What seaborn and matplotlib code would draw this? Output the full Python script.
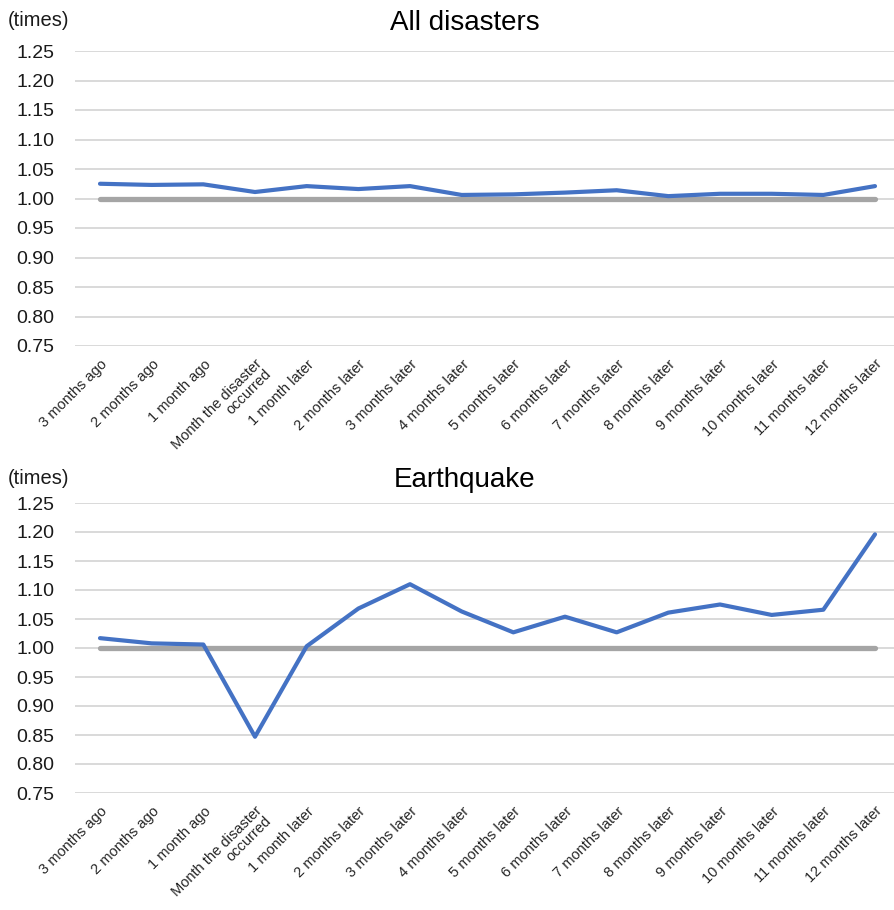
import numpy as np
import pandas as pd
import matplotlib
matplotlib.use("Agg")
import matplotlib.pyplot as plt
import seaborn as sns

# --- data ---
months = ["3 months ago", "2 months ago", "1 month ago", "Month the disaster\noccurred",
          "1 month later", "2 months later", "3 months later", "4 months later",
          "5 months later", "6 months later", "7 months later", "8 months later",
          "9 months later", "10 months later", "11 months later", "12 months later"]
all_disasters = [1.025, 1.023, 1.024, 1.011, 1.021, 1.016, 1.021, 1.006,
                 1.007, 1.010, 1.014, 1.004, 1.008, 1.008, 1.006, 1.021]
earthquake = [1.017, 1.008, 1.006, 0.847, 1.003, 1.068, 1.110, 1.063,
              1.027, 1.054, 1.027, 1.061, 1.075, 1.057, 1.066, 1.196]
baseline = [1.00] * len(months)
yticks = [0.75, 0.80, 0.85, 0.90, 0.95, 1.00, 1.05, 1.10, 1.15, 1.20, 1.25]

sns.set_theme(style="white")
plt.rcParams['font.family'] = ['Liberation Sans', 'DejaVu Sans']

W, H = 895, 910
fig = plt.figure(figsize=(W / 100, H / 100), dpi=100)

blue = "#4472C4"
gray = "#A5A5A5"
grid = "#D9D9D9"

panels = [
    ("All disasters", all_disasters, 51, 346, 23, 20),
    ("Earthquake", earthquake, 503, 793, 480, 478),
]

for title, vals, ytop, ybot, ty, uy in panels:
    ax = fig.add_axes([75 / W, (H - ybot) / H, (895 - 75) / W, (ybot - ytop) / H])
    df = pd.DataFrame({"x": np.arange(len(months)), "base": baseline, "val": vals})
    sns.lineplot(data=df, x="x", y="base", ax=ax, color=gray, linewidth=3.8,
                 solid_capstyle="round", zorder=3)
    sns.lineplot(data=df, x="x", y="val", ax=ax, color=blue, linewidth=3.0,
                 solid_capstyle="round", zorder=4)
    ax.set_ylim(0.75, 1.25)
    ax.set_xlim(-25 / 51.67, 15 + 20 / 51.67)
    ax.set_yticks(yticks)
    ax.set_yticklabels([f"{t:.2f}" for t in yticks], fontsize=14, color="#1a1a1a")
    ax.set_xticks(np.arange(len(months)))
    ax.set_xticklabels(months, rotation=45, ha="right", rotation_mode="anchor",
                       fontsize=10.5, color="#262626", linespacing=0.95)
    ax.tick_params(axis="y", length=0, pad=15)
    ax.tick_params(axis="x", length=0, pad=8)
    ax.grid(axis="y", color=grid, linewidth=1.4)
    ax.set_axisbelow(True)
    for s in ax.spines.values():
        s.set_visible(False)
    ax.set_xlabel("")
    ax.set_ylabel("")
    fig.text(465 / W, 1 - ty / H, title, ha="center", va="center", fontsize=20, color="black")
    fig.text(8 / W, 1 - uy / H, "(times)", ha="left", va="center", fontsize=14.5, color="#1a1a1a")

fig.savefig("out.png", dpi=100)
